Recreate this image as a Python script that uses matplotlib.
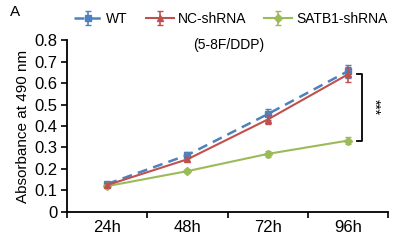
import matplotlib
matplotlib.use("Agg")
import matplotlib.pyplot as plt
import numpy as np

plt.rcParams["font.family"] = ["Liberation Sans", "DejaVu Sans"]

times = ["24h", "48h", "72h", "96h"]
wt = [0.13, 0.265, 0.455, 0.655]
wt_err = [0.01, 0.012, 0.025, 0.03]
nc = [0.125, 0.245, 0.43, 0.64]
nc_err = [0.008, 0.01, 0.02, 0.035]
satb1 = [0.12, 0.19, 0.27, 0.332]
satb1_err = [0.006, 0.008, 0.012, 0.015]

fig = plt.figure(figsize=(3.95, 2.4), dpi=100)
ax = fig.add_axes([0.17, 0.117, 0.812, 0.716])

x = np.arange(len(times))
ax.errorbar(x, wt, yerr=wt_err, color="#4F81BD", linestyle=(0, (4, 2.5)), linewidth=1.8,
            marker="s", markersize=5, capsize=2.5, elinewidth=1.2, label="WT", zorder=3)
ax.errorbar(x, nc, yerr=nc_err, color="#C0504D", linewidth=1.5,
            marker="^", markersize=4.5, capsize=2.5, elinewidth=1.2, label="NC-shRNA", zorder=4)
ax.errorbar(x, satb1, yerr=satb1_err, color="#9BBB59", linewidth=1.5,
            marker="D", markersize=4, capsize=2.5, elinewidth=1.2, label="SATB1-shRNA", zorder=3)

ax.set_xlim(-0.5, len(times) - 0.5)
ax.set_ylim(0, 0.8)
ax.set_xticks(x)
ax.set_xticklabels(times, fontsize=12)
ax.set_xticks(np.arange(-0.5, len(times)), minor=True)
ax.tick_params(axis="x", which="major", length=0, pad=6)
ax.tick_params(axis="x", which="minor", length=4, direction="out", width=1.2)
ax.set_yticks(np.arange(0, 0.81, 0.1))
ax.set_yticklabels(["0"] + [f"{v:.1f}" for v in np.arange(0.1, 0.81, 0.1)], fontsize=12)
ax.tick_params(axis="y", length=4, width=1.2, direction="out", pad=3)
for s in ["top", "right"]:
    ax.spines[s].set_visible(False)
for s in ["left", "bottom"]:
    ax.spines[s].set_linewidth(1.3)
ax.set_ylabel("Absorbance at 490 nm", fontsize=11, labelpad=3)

# significance bracket
bx = 3.18
ax.plot([bx - 0.07, bx, bx, bx - 0.07], [nc[3], nc[3], satb1[3], satb1[3]],
        color="black", linewidth=1.3, clip_on=False)
ax.text(bx + 0.15, (nc[3] + satb1[3]) / 2, "***", rotation=270, ha="center",
        va="center", fontsize=10)

ax.text(1.51, 0.777, "(5-8F/DDP)", ha="center", va="center", fontsize=10)
fig.text(0.025, 0.948, "A", fontsize=11, ha="left", va="center")

fig.legend(loc="center", bbox_to_anchor=(0.585, 0.922), ncol=3, frameon=False,
           fontsize=10, handlelength=2.0, columnspacing=1.3, handletextpad=0.3)

fig.savefig("out.png", dpi=100)
